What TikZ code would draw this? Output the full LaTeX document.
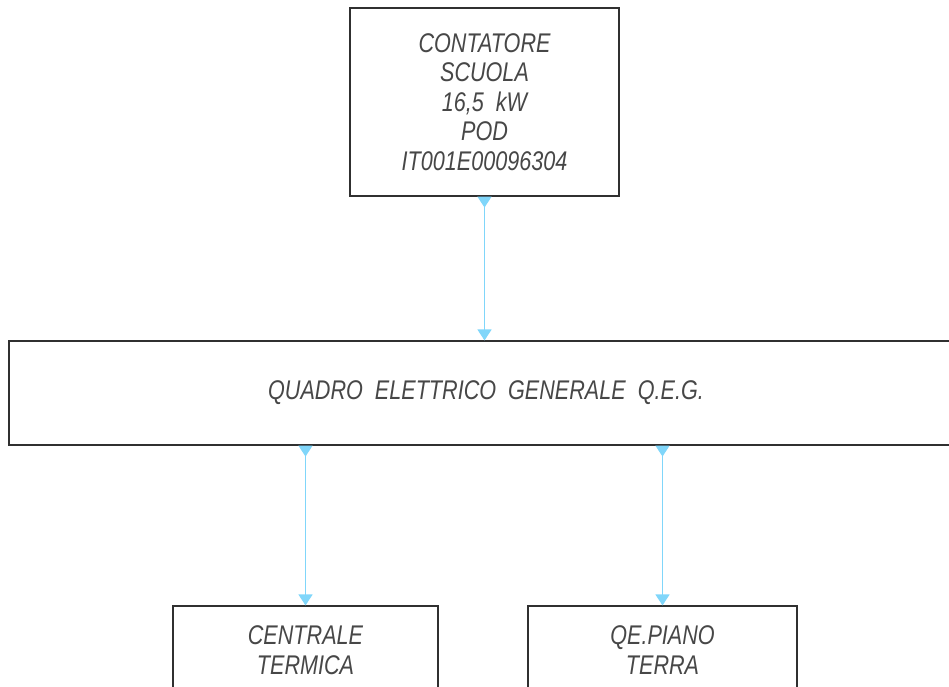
\documentclass[tikz,border=0pt]{standalone}
\usepackage{fontspec}
\setmainfont{Liberation Sans}[FakeStretch=0.8]
\usetikzlibrary{arrows.meta}
\definecolor{feedblue}{HTML}{80D6FA}
\definecolor{boxgray}{HTML}{303030}

\begin{document}
\begin{tikzpicture}[x=1pt,y=-1pt,
    box/.style={draw=boxgray, line width=1.1pt, align=center, inner sep=0pt,
      font=\fontsize{27}{29.5}\selectfont\itshape\color{black!72}},
    feed/.style={feedblue, line width=1.4pt,
      {Triangle[reversed,width=14pt,length=11pt]}-{Triangle[width=14pt,length=11pt]}}]
  \useasboundingbox (0,0) rectangle (949,687);
  \clip (0,0) rectangle (949,687);
  \node[box, minimum width=269pt, minimum height=188pt] (meter) at (484.5,102)
    {CONTATORE\\SCUOLA\\16,5\ \ kW\\POD\\IT001E00096304};
  \node[box, minimum width=954pt, minimum height=104pt] (qeg) at (486,393)
    {QUADRO\ \ ELETTRICO\ \ GENERALE\ \ Q.E.G.};
  \node[box, minimum width=265pt, minimum height=88pt] (thermal) at (305.5,650)
    {CENTRALE\\TERMICA};
  \node[box, minimum width=269pt, minimum height=88pt] (ground) at (662.5,650)
    {QE.PIANO\\TERRA};
  \draw[feed] (meter.south) -- (qeg.north -| meter.south);
  \draw[feed] (qeg.south -| thermal.north) -- (thermal.north);
  \draw[feed] (qeg.south -| ground.north) -- (ground.north);
\end{tikzpicture}
\end{document}
